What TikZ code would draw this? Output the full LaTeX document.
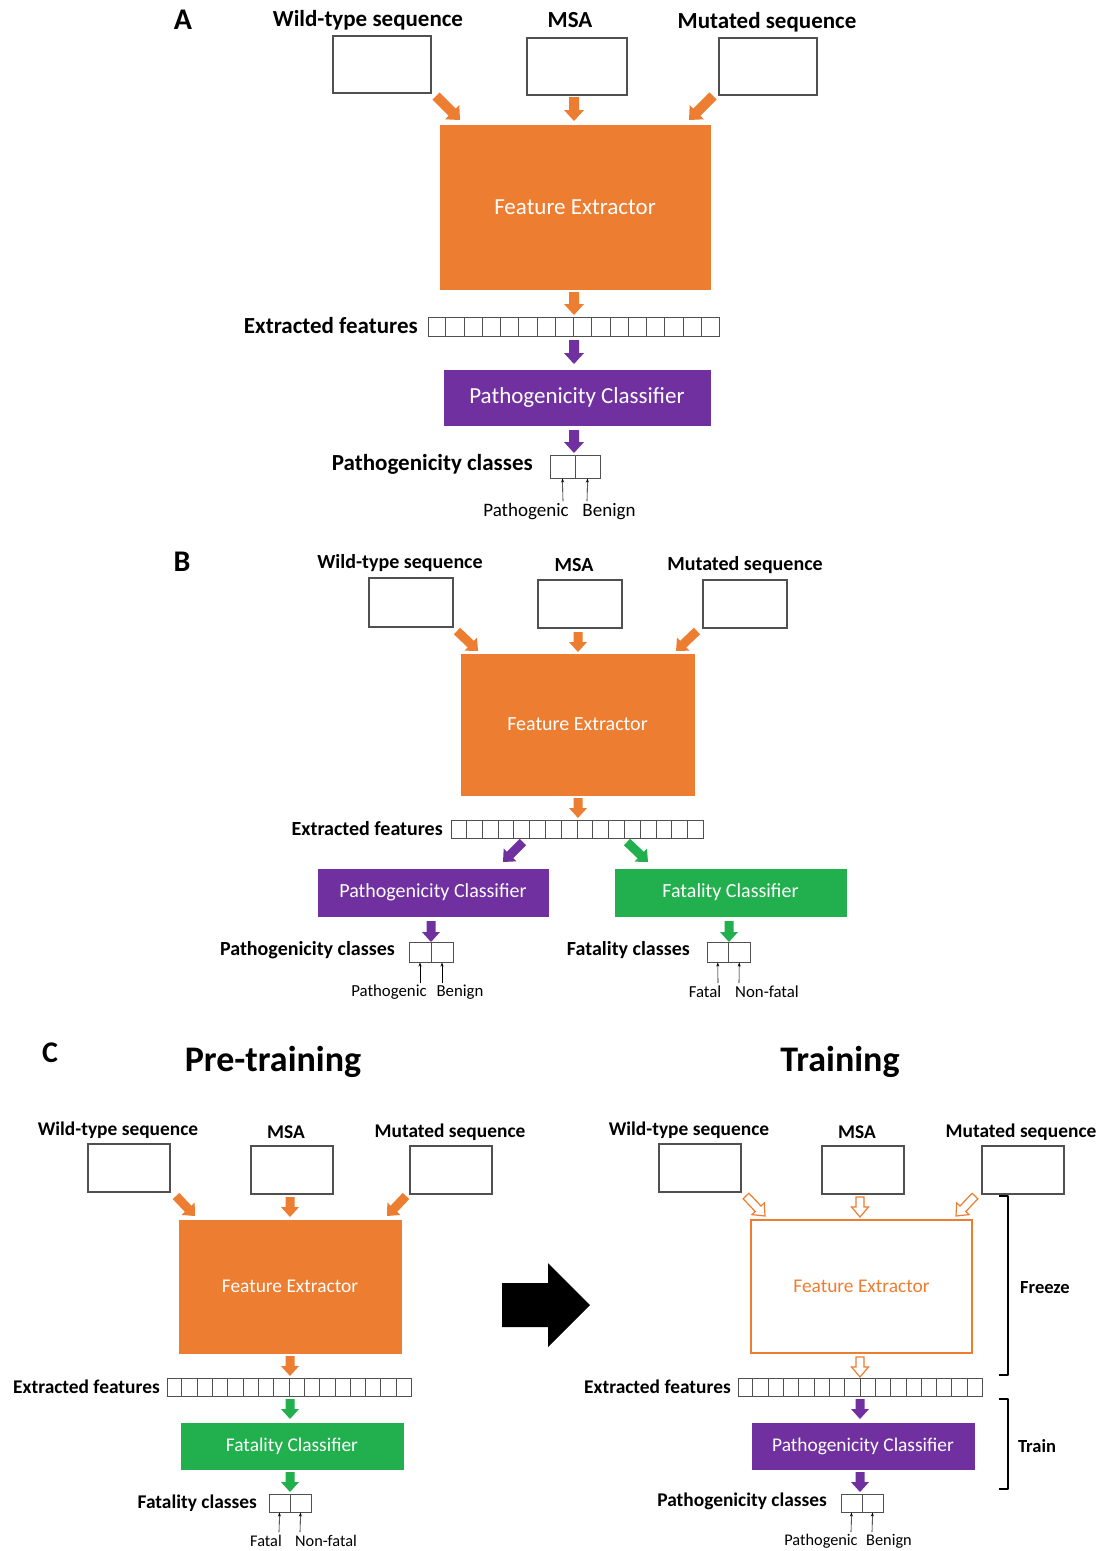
\documentclass[tikz,border=0pt]{standalone}
\usepackage{fontspec}
\setmainfont{Carlito}
\usetikzlibrary{calc,arrows.meta}
\definecolor{cOr}{HTML}{ED7D31}
\definecolor{cPu}{HTML}{7030A0}
\definecolor{cGr}{HTML}{22B04E}
\definecolor{cBx}{HTML}{505050}
\newcommand\blk[6]{% style, half shaft, half head, head length, from, to
  \coordinate (blkQ) at ($(#6)!#4!(#5)$);
  \path[#1] ($(#5)!#2!90:(#6)$) -- ($(blkQ)!#2!90:(#6)$) -- ($(blkQ)!#3!90:(#6)$) -- (#6)
    -- ($(blkQ)!#3!-90:(#6)$) -- ($(blkQ)!#2!-90:(#6)$) -- ($(#5)!#2!-90:(#6)$) -- cycle;
}
\newcommand\efvec[4]{% name, center, width, height
  \node[vecbox, minimum width=#3, minimum height=#4] (#1) at (#2) {};
  \foreach \k in {1,...,15}
    \draw[vecline] ($(#1.south west)!\k/16!(#1.south east)$) -- ($(#1.north west)!\k/16!(#1.north east)$);
}
\newcommand\fsz[1]{\fontsize{#1}{#1}\selectfont}
\tikzset{
  lbl/.style={font=\bfseries\fsz{#1}, inner sep=0pt},
  txt/.style={font=\fsz{#1}, inner sep=0pt},
  inbox/.style={draw=cBx, line width=1.3pt, fill=white, inner sep=0pt},
  vecbox/.style={draw=cBx, line width=1pt, fill=white, inner sep=0pt},
  vecline/.style={draw=cBx, line width=0.8pt},
  cell/.style={draw=cBx, line width=1pt, fill=white, inner sep=0pt},
  fefill/.style={fill=cOr, draw=cOr, inner sep=0pt, text=white},
  feopen/.style={fill=white, draw=cOr, line width=2.5pt, inner sep=0pt, text=cOr},
  pcbox/.style={fill=cPu, draw=cPu, inner sep=0pt, text=white},
  fcbox/.style={fill=cGr, draw=cGr, inner sep=0pt, text=white},
  orA/.style={fill=cOr},
  puA/.style={fill=cPu},
  grA/.style={fill=cGr},
  opA/.style={fill=white, draw=cOr, line width=1.2pt, line join=miter},
  bkA/.style={fill=black},
  thinarr/.style={draw=black, line width=0.6pt, -{Stealth[length=4pt,width=3pt]}},
  brk/.style={draw=black, line width=2pt, line join=round}
}
\begin{document}
\begin{tikzpicture}[x=1pt,y=-1pt]
\useasboundingbox (0,0) rectangle (1100,1551);
\fill[white] (0,0) rectangle (1100,1551);

% ================= Panel A =================
\node[lbl=30] (labA) at (183,20) {A};
\node[lbl=23] (twtA) at (368,20) {Wild-type sequence};
\node[lbl=23] (tmsaA) at (570,20) {MSA};
\node[lbl=23] (tmutA) at (767,22) {Mutated sequence};
\node[inbox, minimum width=98, minimum height=57] (wtA) at (382,64.5) {};
\node[inbox, minimum width=100, minimum height=57] (msaA) at (577,66.5) {};
\node[inbox, minimum width=98, minimum height=57] (mutA) at (768,66.5) {};
\node[fefill, txt=23, minimum width=270, minimum height=164] (feA) at (575,207) {Feature Extractor};
\coordinate (aA1s) at (436,96); \coordinate (aA1e) at (460,120);
\coordinate (aA2s) at (574,97); \coordinate (aA2e) at (574,121);
\coordinate (aA3s) at (713,96); \coordinate (aA3e) at (689,120);
\blk{orA}{5pt}{10pt}{11pt}{aA1s}{aA1e}
\blk{orA}{5pt}{10pt}{11pt}{aA2s}{aA2e}
\blk{orA}{5pt}{10pt}{11pt}{aA3s}{aA3e}
\efvec{efA}{573.5,326.5}{291}{19}
\node[lbl=23, anchor=east] (tefA) at (418,326) {Extracted features};
\coordinate (aA4s) at (574,292); \coordinate (aA4e) at (574,315);
\blk{orA}{5pt}{10pt}{11pt}{aA4s}{aA4e}
\node[pcbox, txt=23, minimum width=266, minimum height=55] (pcA) at (577,397.5) {Pathogenicity Classifier};
\coordinate (aA5s) at (574,340); \coordinate (aA5e) at (574,364);
\blk{puA}{5pt}{10pt}{11pt}{aA5s}{aA5e}
\coordinate (aA6s) at (574,430); \coordinate (aA6e) at (574,453);
\blk{puA}{5pt}{10pt}{11pt}{aA6s}{aA6e}
\node[cell, minimum width=25, minimum height=23] (cA1) at (562.5,466.5) {};
\node[cell, minimum width=25, minimum height=23] (cA2) at (587.5,466.5) {};
\node[lbl=23, anchor=east] (tclsA) at (533,464) {Pathogenicity classes};
\node[txt=19] (tpA1) at (526,512) {Pathogenic};
\node[txt=19] (tpA2) at (609,512) {Benign};
\coordinate (pA1) at (563,501); \coordinate (pA2) at (587,501);
\draw[thinarr] (pA1) -- (cA1.south);
\draw[thinarr] (pA2) -- (cA2.south);

% ================= Panel B =================
\node[lbl=30] (labB) at (182,562) {B};
\node[lbl=20] (twtB) at (400,563) {Wild-type sequence};
\node[lbl=20] (tmsaB) at (574,565) {MSA};
\node[lbl=20] (tmutB) at (745,565) {Mutated sequence};
\node[inbox, minimum width=84, minimum height=49] (wtB) at (411,602.5) {};
\node[inbox, minimum width=84, minimum height=48] (msaB) at (580,604) {};
\node[inbox, minimum width=84, minimum height=48] (mutB) at (745,604) {};
\node[fefill, txt=20, minimum width=233, minimum height=141] (feB) at (577.5,724.5) {Feature Extractor};
\coordinate (aB1s) at (457,631); \coordinate (aB1e) at (478,651);
\coordinate (aB2s) at (578,632); \coordinate (aB2e) at (578,652);
\coordinate (aB3s) at (697,631); \coordinate (aB3e) at (676,651);
\blk{orA}{4.5pt}{9pt}{10pt}{aB1s}{aB1e}
\blk{orA}{4.5pt}{9pt}{10pt}{aB2s}{aB2e}
\blk{orA}{4.5pt}{9pt}{10pt}{aB3s}{aB3e}
\coordinate (aB4s) at (578,798); \coordinate (aB4e) at (578,818);
\blk{orA}{4.5pt}{9pt}{10pt}{aB4s}{aB4e}
\efvec{efB}{577,829}{252}{18}
\node[lbl=20, anchor=east] (tefB) at (443,829) {Extracted features};
\coordinate (aB5s) at (523,842); \coordinate (aB5e) at (503,862);
\coordinate (aB6s) at (627,842); \coordinate (aB6e) at (648,862);
\blk{puA}{4.5pt}{9pt}{10pt}{aB5s}{aB5e}
\blk{grA}{4.5pt}{9pt}{10pt}{aB6s}{aB6e}
\node[pcbox, txt=20, minimum width=230, minimum height=47] (pcB) at (433,892.5) {Pathogenicity Classifier};
\node[fcbox, txt=20, minimum width=231, minimum height=47] (fcB) at (730.5,892.5) {Fatality Classifier};
\coordinate (aB7s) at (431,921); \coordinate (aB7e) at (431,942);
\blk{puA}{4.5pt}{9pt}{10pt}{aB7s}{aB7e}
\coordinate (aB8s) at (729,921); \coordinate (aB8e) at (729,942);
\blk{grA}{4.5pt}{9pt}{10pt}{aB8s}{aB8e}
\node[cell, minimum width=22, minimum height=20] (cB1) at (420,952) {};
\node[cell, minimum width=22, minimum height=20] (cB2) at (442,952) {};
\node[cell, minimum width=21.5, minimum height=20] (cB3) at (717.75,952) {};
\node[cell, minimum width=21.5, minimum height=20] (cB4) at (739.25,952) {};
\node[lbl=20, anchor=east] (tclsB1) at (395,950) {Pathogenicity classes};
\node[lbl=20, anchor=east] (tclsB2) at (690,950) {Fatality classes};
\node[txt=16.8] (tpB1) at (389,992) {Pathogenic};
\node[txt=16.8] (tpB2) at (460,992) {Benign};
\node[txt=16.8] (tfB1) at (705,992) {Fatal};
\node[txt=16.8] (tfB2) at (767,992) {Non-fatal};
\coordinate (pB1) at (420,983); \coordinate (pB2) at (442,983);
\coordinate (pB3) at (718,983); \coordinate (pB4) at (739,983);
\draw[thinarr] (pB1) -- (cB1.south);
\draw[thinarr] (pB2) -- (cB2.south);
\draw[thinarr] (pB3) -- (cB3.south);
\draw[thinarr] (pB4) -- (cB4.south);

% ================= Panel C =================
\node[lbl=30] (labC) at (50,1053) {C};
\node[lbl=36] (tpre) at (273,1062) {Pre-training};
\node[lbl=36] (ttrain) at (840,1062) {Training};
% left
\node[lbl=19.4] (twtCL) at (118,1130) {Wild-type sequence};
\node[lbl=19.4] (tmsaCL) at (286,1132) {MSA};
\node[lbl=19.4] (tmutCL) at (450,1132) {Mutated sequence};
\node[inbox, minimum width=82, minimum height=48] (wtCL) at (129,1168) {};
\node[inbox, minimum width=82, minimum height=48] (msaCL) at (292,1170) {};
\node[inbox, minimum width=82, minimum height=48] (mutCL) at (451,1170) {};
\node[fefill, txt=19.4, minimum width=222, minimum height=133] (feCL) at (290,1286.5) {Feature Extractor};
\coordinate (aC1s) at (176,1196); \coordinate (aC1e) at (195,1216);
\coordinate (aC2s) at (290,1197); \coordinate (aC2e) at (290,1217);
\coordinate (aC3s) at (406,1196); \coordinate (aC3e) at (387,1216);
\blk{orA}{4.5pt}{9pt}{10pt}{aC1s}{aC1e}
\blk{orA}{4.5pt}{9pt}{10pt}{aC2s}{aC2e}
\blk{orA}{4.5pt}{9pt}{10pt}{aC3s}{aC3e}
\coordinate (aC4s) at (290,1356); \coordinate (aC4e) at (290,1376);
\blk{orA}{4.5pt}{9pt}{10pt}{aC4s}{aC4e}
\efvec{efCL}{289,1387}{244}{18}
\node[lbl=19.4, anchor=east] (tefCL) at (160,1387) {Extracted features};
\coordinate (aC5s) at (290,1399); \coordinate (aC5e) at (290,1419);
\blk{grA}{4.5pt}{9pt}{10pt}{aC5s}{aC5e}
\node[fcbox, txt=19.4, minimum width=222, minimum height=46] (fcCL) at (292,1446) {Fatality Classifier};
\coordinate (aC6s) at (290,1472); \coordinate (aC6e) at (290,1492);
\blk{grA}{4.5pt}{9pt}{10pt}{aC6s}{aC6e}
\node[cell, minimum width=21, minimum height=18] (cC1) at (279.5,1503) {};
\node[cell, minimum width=21, minimum height=18] (cC2) at (300.5,1503) {};
\node[lbl=19.4, anchor=east] (tclsCL) at (257,1503) {Fatality classes};
\node[txt=16.3] (tfC1) at (266,1541) {Fatal};
\node[txt=16.3] (tfC2) at (326,1541) {Non-fatal};
\coordinate (pC1) at (279,1532); \coordinate (pC2) at (300,1532);
\draw[thinarr] (pC1) -- (cC1.south);
\draw[thinarr] (pC2) -- (cC2.south);
% big black arrow
\coordinate (bigS) at (502,1305); \coordinate (bigE) at (590,1305);
\blk{bkA}{22pt}{42pt}{42pt}{bigS}{bigE}
% right
\node[lbl=19.4] (twtCR) at (689,1130) {Wild-type sequence};
\node[lbl=19.4] (tmsaCR) at (857,1132) {MSA};
\node[lbl=19.4] (tmutCR) at (1021,1132) {Mutated sequence};
\node[inbox, minimum width=82, minimum height=48] (wtCR) at (700,1168) {};
\node[inbox, minimum width=82, minimum height=48] (msaCR) at (863,1170) {};
\node[inbox, minimum width=82, minimum height=48] (mutCR) at (1023,1170) {};
\node[feopen, txt=19.4, minimum width=221, minimum height=133] (feCR) at (861.5,1286.5) {Feature Extractor};
\coordinate (aD1s) at (746,1196); \coordinate (aD1e) at (765,1216);
\coordinate (aD2s) at (860,1197); \coordinate (aD2e) at (860,1217);
\coordinate (aD3s) at (975,1196); \coordinate (aD3e) at (956,1216);
\blk{opA}{4pt}{8.5pt}{10pt}{aD1s}{aD1e}
\blk{opA}{4pt}{8.5pt}{10pt}{aD2s}{aD2e}
\blk{opA}{4pt}{8.5pt}{10pt}{aD3s}{aD3e}
\coordinate (aD4s) at (860,1357); \coordinate (aD4e) at (860,1377);
\blk{opA}{4pt}{8.5pt}{10pt}{aD4s}{aD4e}
\efvec{efCR}{860,1387}{244}{18}
\node[lbl=19.4, anchor=east] (tefCR) at (731,1387) {Extracted features};
\coordinate (aD5s) at (860,1399); \coordinate (aD5e) at (860,1419);
\blk{puA}{4.5pt}{9pt}{10pt}{aD5s}{aD5e}
\node[pcbox, txt=19.4, minimum width=222, minimum height=46] (pcCR) at (863,1446) {Pathogenicity Classifier};
\coordinate (aD6s) at (860,1472); \coordinate (aD6e) at (860,1492);
\blk{puA}{4.5pt}{9pt}{10pt}{aD6s}{aD6e}
\node[cell, minimum width=21, minimum height=18] (cD1) at (851.5,1503) {};
\node[cell, minimum width=21, minimum height=18] (cD2) at (872.5,1503) {};
\node[lbl=19.4, anchor=east] (tclsCR) at (827,1501) {Pathogenicity classes};
\node[txt=16.3] (tpD1) at (821,1541) {Pathogenic};
\node[txt=16.3] (tpD2) at (889,1541) {Benign};
\coordinate (pD1) at (851,1532); \coordinate (pD2) at (872,1532);
\draw[thinarr] (pD1) -- (cD1.south);
\draw[thinarr] (pD2) -- (cD2.south);
% brackets
\coordinate (frT) at (999,1196); \coordinate (frB) at (999,1375);
\draw[brk] (frT) -- ++(9,0) |- (frB);
\node[lbl=18.5] (tfreeze) at (1045,1288) {Freeze};
\coordinate (trT) at (999,1399); \coordinate (trB) at (999,1489);
\draw[brk] (trT) -- ++(9,0) |- (trB);
\node[lbl=18.5] (ttrainb) at (1037,1446) {Train};
\end{tikzpicture}
\end{document}
